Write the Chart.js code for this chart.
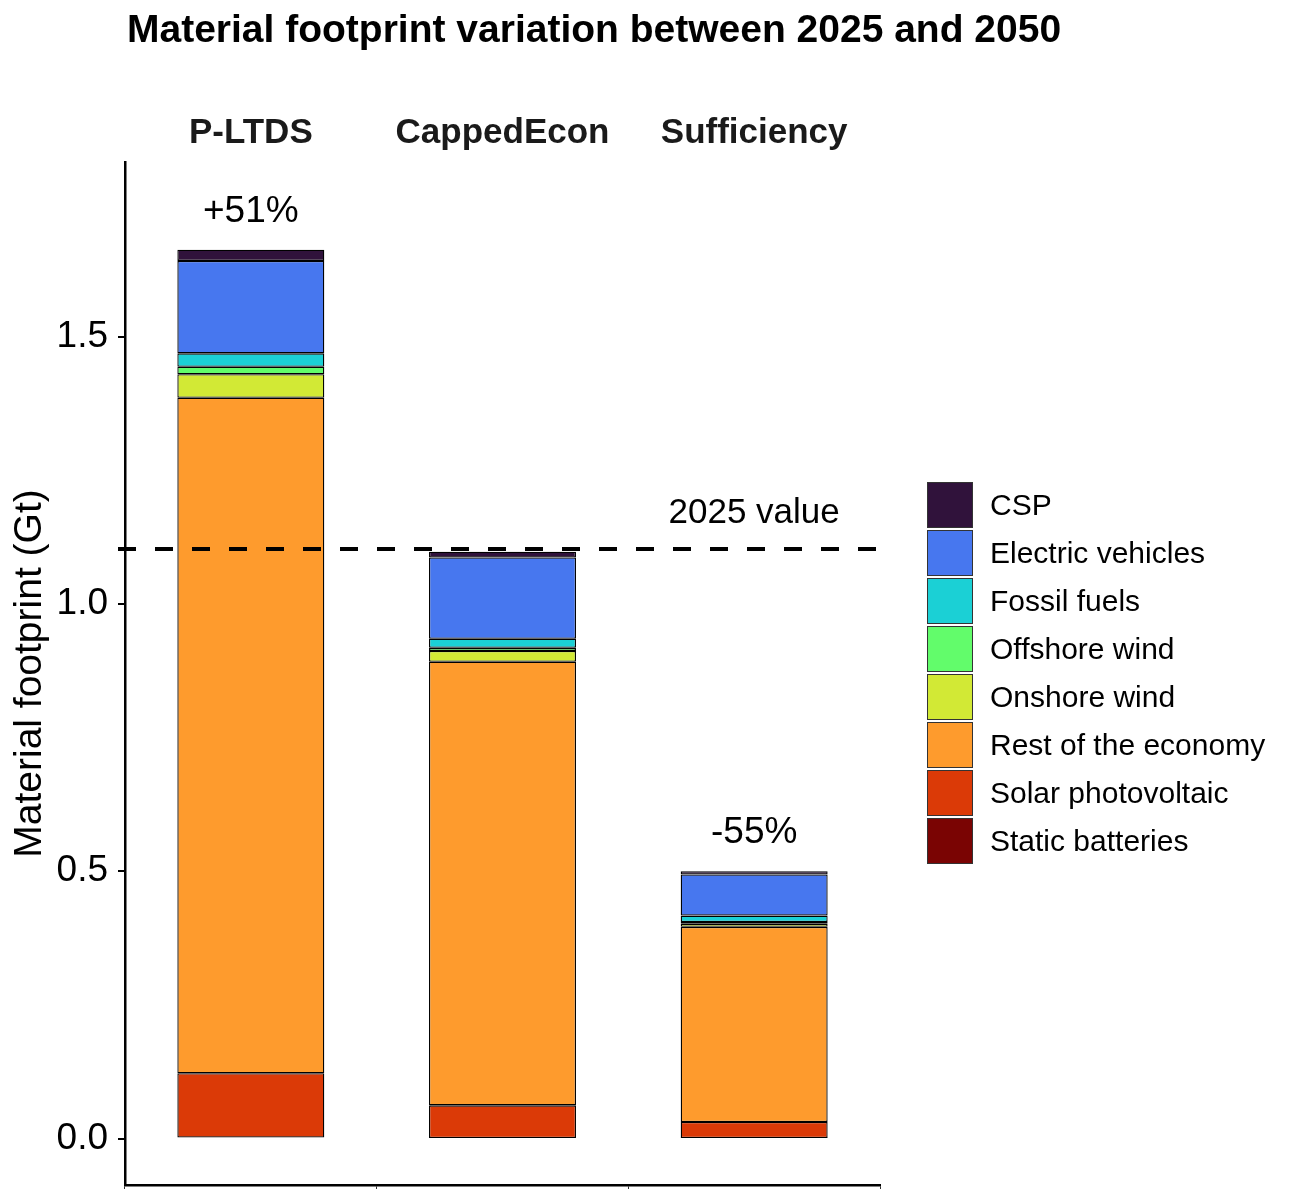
<!DOCTYPE html>
<html>
<head>
<meta charset="utf-8">
<script src="https://cdn.jsdelivr.net/npm/chart.js@4.4.1/dist/chart.umd.min.js"></script>
<style>
  body { margin: 0; background: #fff; }
  #wrap { width: 1300px; height: 1200px; }
</style>
</head>
<body>
<div id="wrap"><canvas id="chart" width="1300" height="1200"></canvas></div>
<script>
const FONT = '"Liberation Sans", Arial, sans-serif';

const chartTitle = 'Material footprint variation between 2025 and 2050';
const categories = ['P-LTDS', 'CappedEcon', 'Sufficiency'];

// stacked bottom -> top
const staticBatteries = [0.002, 0.001, 0.001];
const solarPV         = [0.120, 0.061, 0.030];
const restOfEconomy   = [1.264, 0.830, 0.365];
const onshoreWind     = [0.044, 0.020, 0.006];
const offshoreWind    = [0.014, 0.006, 0.003];
const fossilFuels     = [0.025, 0.017, 0.012];
const electricVeh     = [0.173, 0.152, 0.077];
const csp             = [0.021, 0.011, 0.006];

const refValue = 1.103;
const refLabel = '2025 value';
const changeLabels = ['+51%', '', '-55%'];
const yTicks = [0, 0.5, 1.0, 1.5];

const datasets = [
  { label: 'Static batteries',    data: staticBatteries, backgroundColor: '#7A0403' },
  { label: 'Solar photovoltaic',  data: solarPV,         backgroundColor: '#DB3A07' },
  { label: 'Rest of the economy', data: restOfEconomy,   backgroundColor: '#FE9B2D' },
  { label: 'Onshore wind',        data: onshoreWind,     backgroundColor: '#D2E935' },
  { label: 'Offshore wind',       data: offshoreWind,    backgroundColor: '#62FC6B' },
  { label: 'Fossil fuels',        data: fossilFuels,     backgroundColor: '#1BD0D5' },
  { label: 'Electric vehicles',   data: electricVeh,     backgroundColor: '#4777EF' },
  { label: 'CSP',                 data: csp,             backgroundColor: '#30123B' }
].map(d => Object.assign(d, {
  borderColor: '#000',
  borderWidth: 1.3,
  borderSkipped: false,
  barPercentage: 0.584,
  categoryPercentage: 1
}));

const overlay = {
  id: 'overlay',
  afterDatasetsDraw(chart) {
    const { ctx, chartArea, scales: { x, y } } = chart;
    const yr = y.getPixelForValue(refValue);
    ctx.save();
    // dashed 2025 reference line
    ctx.strokeStyle = '#000';
    ctx.lineWidth = 4;
    ctx.setLineDash([18, 19]);
    ctx.beginPath();
    ctx.moveTo(chartArea.left - 7, yr);
    ctx.lineTo(chartArea.right, yr);
    ctx.stroke();
    ctx.setLineDash([]);

    ctx.fillStyle = '#000';
    ctx.textAlign = 'center';
    ctx.textBaseline = 'middle';
    ctx.font = '35px ' + FONT;
    ctx.fillText(refLabel, x.getPixelForValue(2), yr - 36);

    // change labels above bars
    ctx.font = '37px ' + FONT;
    categories.forEach((c, i) => {
      if (!changeLabels[i]) return;
      const total = chart.data.datasets.reduce((s, d) => s + d.data[i], 0);
      ctx.fillText(changeLabels[i], x.getPixelForValue(i), y.getPixelForValue(total) - 38);
    });
    ctx.restore();
  },
  afterDraw(chart) {
    const { ctx } = chart;
    ctx.save();
    // title
    ctx.fillStyle = '#000';
    ctx.font = 'bold 39px ' + FONT;
    ctx.textAlign = 'left';
    ctx.textBaseline = 'middle';
    ctx.fillText(chartTitle, 127, 31);

    // legend on the right
    const items = chart.data.datasets.slice().reverse();
    ctx.font = '30px ' + FONT;
    items.forEach((d, i) => {
      const top = 482 + i * 48;
      ctx.fillStyle = d.backgroundColor;
      ctx.fillRect(927, top, 46, 46);
      ctx.strokeStyle = '#333';
      ctx.lineWidth = 1;
      ctx.strokeRect(927.5, top + 0.5, 45, 45);
      ctx.fillStyle = '#000';
      ctx.fillText(d.label, 990, top + 25);
    });
    ctx.restore();
  }
};

function noPad(s) {
  s.paddingTop = 0; s.paddingBottom = 0; s.paddingLeft = 0; s.paddingRight = 0;
}

new Chart(document.getElementById('chart'), {
  type: 'bar',
  data: { labels: categories, datasets: datasets },
  options: {
    responsive: false,
    animation: false,
    layout: { padding: { left: 0, right: 420, top: 52, bottom: 0 } },
    plugins: {
      legend: { display: false },
      tooltip: { enabled: false },
      title: { display: false }
    },
    scales: {
      x: {
        stacked: true,
        offset: true,
        border: { display: true, color: '#000', width: 2.5 },
        grid: { display: true, drawOnChartArea: false, offset: true, tickLength: 4, color: '#333', lineWidth: 1 },
        ticks: { display: false },
        afterFit(s) { s.height = 15; noPad(s); }
      },
      x2: {
        type: 'category',
        labels: categories,
        position: 'top',
        offset: true,
        border: { display: false },
        grid: { display: false, drawTicks: false },
        ticks: { color: '#1a1a1a', padding: 8, font: { family: FONT, size: 35, weight: 'bold' } },
        afterFit(s) { s.height = 110; noPad(s); }
      },
      y: {
        stacked: true,
        min: -0.087,
        max: 1.827,
        border: { display: true, color: '#000', width: 2.5 },
        grid: { display: true, drawOnChartArea: false, drawTicks: true, tickLength: 7, color: '#000', lineWidth: 2 },
        afterBuildTicks(s) { s.ticks = yTicks.map(v => ({ value: v })); },
        ticks: {
          color: '#000',
          padding: 10,
          font: { family: FONT, size: 37 },
          callback: v => Number(v).toFixed(1)
        },
        title: {
          display: true,
          text: 'Material footprint (Gt)',
          color: '#000',
          font: { family: FONT, size: 39 },
          padding: { top: 7, bottom: 0 }
        },
        afterFit(s) { s.width = 125; noPad(s); }
      }
    }
  },
  plugins: [overlay]
});
</script>
</body>
</html>
